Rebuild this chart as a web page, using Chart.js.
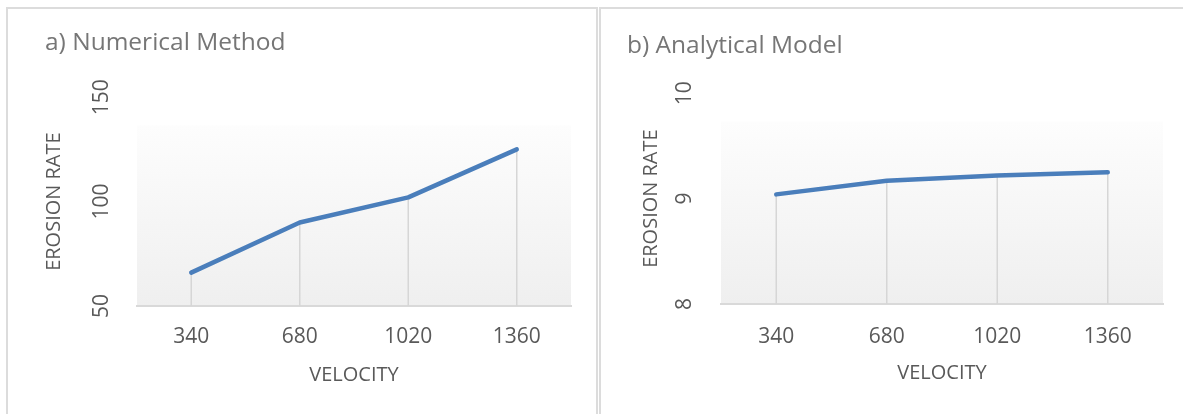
<!DOCTYPE html>
<html>
<head>
<meta charset="utf-8">
<script src="https://cdn.jsdelivr.net/npm/chart.js@4.4.0/dist/chart.umd.min.js"></script>
<style>
    html, body { margin: 0; padding: 0; background: #ffffff; overflow: hidden; }
    body { width: 1183px; height: 414px; position: relative; }
    .box { position: absolute; top: 7px; border: 2px solid #dcdcdc; border-bottom: none; }
    #boxA { left: 6px; width: 588px; height: 405px; }
    #boxB { left: 599px; width: 582px; height: 405px; border-right: none; }
</style>
</head>
<body>
<div class="box" id="boxA"><canvas id="numericalChart"></canvas></div>
<div class="box" id="boxB"><canvas id="analyticalChart"></canvas></div>
<script>
const velocities = ["340", "680", "1020", "1360"];
const numericalRates = [66, 90, 102, 125];
const analyticalRates = [9.04, 9.17, 9.22, 9.25];
const numericalAxis = [50, 150, 50];   // min, max, step
const analyticalAxis = [8, 10, 1];

const FONT = "'Open Sans', 'DejaVu Sans', sans-serif";
const TEXT_COLOR = "#595959";

// light grey gradient behind the plot, starting a bit below the top tick
const plotBackground = {
    id: "plotBackground",
    beforeDraw(chart) {
        const { ctx, chartArea } = chart;
        const top = chartArea.top + (chartArea.bottom - chartArea.top) * 0.135;
        const grad = ctx.createLinearGradient(0, top, 0, chartArea.bottom);
        grad.addColorStop(0, "#fdfdfd");
        grad.addColorStop(1, "#efefef");
        ctx.save();
        ctx.fillStyle = grad;
        ctx.fillRect(chartArea.left, top, chartArea.right - chartArea.left, chartArea.bottom - top);
        ctx.restore();
    },
};

// vertical drop lines from each point down to the axis
const dropLines = {
    id: "dropLines",
    beforeDatasetsDraw(chart) {
        const { ctx, chartArea } = chart;
        const meta = chart.getDatasetMeta(0);
        ctx.save();
        ctx.strokeStyle = "#d6d6d6";
        ctx.lineWidth = 1.5;
        meta.data.forEach(function (pt) {
            ctx.beginPath();
            ctx.moveTo(pt.x, pt.y);
            ctx.lineTo(pt.x, chartArea.bottom);
            ctx.stroke();
        });
        ctx.restore();
    },
};

function makeChart(id, title, values, axis, layout) {
    new Chart(document.getElementById(id).getContext("2d"), {
        type: "line",
        data: {
            labels: velocities,
            datasets: [
                {
                    data: values,
                    borderColor: "#4a7ebb",
                    borderWidth: 4.5,
                    borderCapStyle: "round",
                    borderJoinStyle: "round",
                    pointRadius: 0,
                    tension: 0,
                },
            ],
        },
        options: {
            responsive: true,
            maintainAspectRatio: false,
            animation: false,
            layout: {
                padding: { left: layout.left, right: layout.right, top: 0, bottom: 0 },
            },
            plugins: {
                legend: { display: false },
                tooltip: { enabled: false },
                title: {
                    display: true,
                    text: title,
                    align: "start",
                    color: "#767676",
                    font: { family: FONT, size: 24.5, weight: "normal" },
                    padding: { top: layout.titleTop, bottom: layout.titleBottom },
                },
            },
            scales: {
                x: {
                    offset: true,
                    grid: { display: true, drawOnChartArea: false, drawTicks: false },
                    border: { display: true, color: "#d9d9d9", width: 2 },
                    ticks: {
                        color: TEXT_COLOR,
                        padding: layout.xTickPad,
                        font: { family: FONT, size: 21 },
                    },
                    title: {
                        display: true,
                        text: "VELOCITY",
                        color: TEXT_COLOR,
                        font: { family: FONT, size: 20 },
                        padding: { top: 0, bottom: layout.xTitlePad },
                    },
                    afterFit: function (scale) {
                        scale.height = layout.xHeight;
                    },
                },
                y: {
                    min: axis[0],
                    max: axis[1],
                    grid: { display: false, drawTicks: false },
                    border: { display: false },
                    ticks: {
                        stepSize: axis[2],
                        minRotation: 90,
                        maxRotation: 90,
                        crossAlign: "center",
                        color: TEXT_COLOR,
                        padding: layout.yTickPad,
                        font: { family: FONT, size: 21 },
                    },
                    title: {
                        display: true,
                        text: "EROSION RATE",
                        color: TEXT_COLOR,
                        font: { family: FONT, size: 20 },
                        padding: { top: layout.yTitlePad, bottom: 0 },
                    },
                    afterFit: function (scale) {
                        scale.width = layout.yWidth;
                    },
                },
            },
        },
        plugins: [plotBackground, dropLines],
    });
}

makeChart("numericalChart", "a) Numerical Method", numericalRates, numericalAxis, {
    left: 37, right: 25, titleTop: 19.4, titleBottom: 39.4,
    xHeight: 108, xTickPad: 18.4, xTitlePad: 26.4,
    yWidth: 92, yTickPad: 17, yTitlePad: -3,
});

makeChart("analyticalChart", "b) Analytical Model", analyticalRates, analyticalAxis, {
    left: 26, right: 20, titleTop: 22.4, titleBottom: 32.4,
    xHeight: 110, xTickPad: 20.4, xTitlePad: 28.4,
    yWidth: 94, yTickPad: 24, yTitlePad: 12.5,
});
</script>
</body>
</html>
